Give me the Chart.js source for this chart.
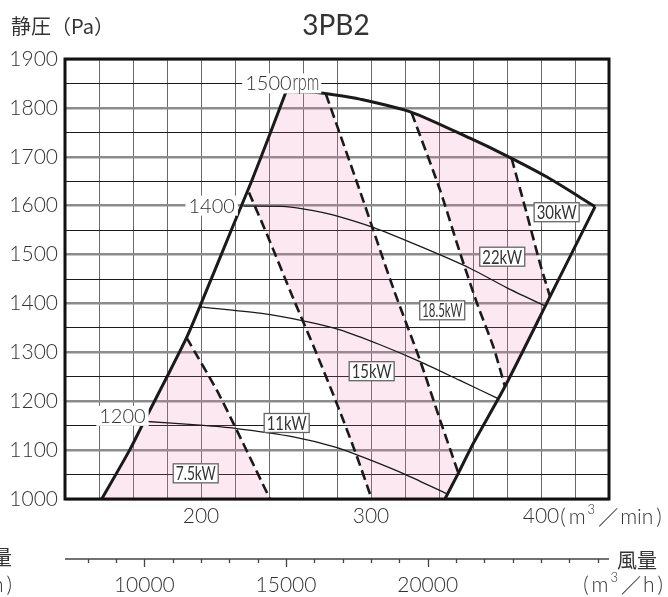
<!DOCTYPE html>
<html>
<head>
<meta charset="utf-8">
<script src="https://cdn.jsdelivr.net/npm/chart.js@4/dist/chart.umd.min.js"></script>
<style>
  html, body { margin: 0; padding: 0; background: #fff; }
</style>
</head>
<body>
<canvas id="chart" width="668" height="597"></canvas>
<script>
// 風量 (m3/min) vs 静圧 (Pa)
const chartTitle = "3PB2";
const yTitle = "静圧（Pa）";
const xLabelTicks = [200, 300, 400];
const yLabelTicks = [1000, 1100, 1200, 1300, 1400, 1500, 1600, 1700, 1800, 1900];

// second axis in m3/h
const m3hMajor = [10000, 15000, 20000];
const m3hMinor = [8000, 9000, 11000, 12000, 13000, 14000, 16000, 17000, 18000, 19000, 21000, 22000, 23000, 24000, 25000, 26000];

// envelope of the operating range
const leftBound = [[141.6, 1000], [158, 1100], [166, 1155], [180, 1250], [191.5, 1330], [199.5, 1395], [219, 1560], [229.5, 1648], [240.5, 1746], [250, 1833]];
const topCurve = [[250, 1833], [266, 1832], [278, 1827], [293.5, 1818], [323.9, 1791], [358.2, 1738], [379.8, 1702], [403.3, 1659], [431.8, 1598]];
const rightBound = [[431.8, 1598], [405.3, 1414], [378.8, 1230], [360.2, 1114], [351.4, 1053], [343.5, 1000]];

// rpm curves
const rpm1400 = [[224.9, 1599], [250, 1598], [266, 1590], [277.6, 1581], [301.6, 1555], [330, 1515], [358.2, 1472], [380, 1432], [402.4, 1395]];
const rpm1300 = [[199.4, 1393], [234.7, 1380], [262.2, 1363], [281.8, 1346], [305, 1316], [328.8, 1281], [352, 1243], [374.5, 1206]];
const rpm1200 = [[166.1, 1159], [199.4, 1151], [220, 1144.5], [254.3, 1127], [279, 1106], [299.4, 1080], [321, 1049], [344.5, 1011]];

// motor power limits (dashed)
const kw75Line = [[191.5, 1330], [209.2, 1223], [221, 1141], [240.6, 1000]];
const kw11Line = [[228.2, 1627], [238.6, 1543], [254.3, 1410], [266.5, 1310], [279.8, 1196], [291.6, 1088], [300.4, 1000]];
const kw15Line = [[273.5, 1828], [293.5, 1630], [313.1, 1431], [328.8, 1284], [340.6, 1162], [351.4, 1053]];
const kw185Line = [[323.9, 1790], [340.6, 1632], [352.4, 1503], [363.1, 1393], [372, 1311], [378.8, 1230]];
const kw22Line = [[382.7, 1697], [391.6, 1584], [399.4, 1482], [405.3, 1414]];

const kwLabels = ["7.5kW", "11kW", "15kW", "18.5kW", "22kW", "30kW"];
const kwLabelX = [196.9, 250.4, 300.4, 341.9, 377.2, 409.2];
const kwLabelY = [1052.5, 1155.5, 1261.4, 1386, 1495.6, 1586.6];

const rpmLabels = ["1500", "1400", "1200"];
const rpmLabelX = [247.5, 206.3, 153.8];
const rpmLabelY = [1850, 1600, 1170];

const FONT = 'Lato, "Noto Sans CJK JP", sans-serif';
const CJK = '"Noto Sans CJK JP", sans-serif';
const TEXT = "#333";
const PINK = "rgba(238, 120, 165, 0.17)";

const pts = (arr) => arr.map((p) => ({ x: p[0], y: p[1] }));

// pink areas built from the curves above
const regionA = [...leftBound.filter((p) => p[1] < kw75Line[0][1]), ...kw75Line];
const regionC = [
  ...kw11Line.slice().reverse(),
  ...leftBound.filter((p) => p[1] > kw11Line[0][1]),
  ...topCurve.filter((p) => p[0] > leftBound[leftBound.length - 1][0] && p[0] < kw15Line[0][0]),
  ...kw15Line,
  ...rightBound.filter((p) => p[1] < kw15Line[kw15Line.length - 1][1]),
];
const regionE = [
  ...topCurve.filter((p) => p[0] > kw185Line[0][0] && p[0] < kw22Line[0][0]),
  ...kw22Line,
  ...rightBound.filter((p) => p[1] > kw185Line[kw185Line.length - 1][1] && p[1] < kw22Line[kw22Line.length - 1][1]),
  ...kw185Line.slice().reverse(),
];

const fillSet = (arr) => ({
  data: pts(arr),
  showLine: true,
  fill: "shape",
  backgroundColor: PINK,
  borderColor: "rgba(0,0,0,0)",
  borderWidth: 0,
  pointRadius: 0,
  tension: 0,
  order: 10,
});
const lineSet = (arr, width, dash) => ({
  data: pts(arr),
  showLine: true,
  fill: false,
  borderColor: "#1a1a1a",
  borderWidth: width,
  borderDash: dash || [],
  pointRadius: 0,
  tension: 0.25,
  order: 1,
});

// "(m³/xx)" with a raised 3
const drawUnit = (ctx, x, y, word, align) => {
  const big = "300 21px " + FONT;
  const small = "300 13px " + FONT;
  const parts = [["(", big, 0, 3], ["m", big, 0, 2], ["3", small, -7, 3], ["／", "20px " + CJK, 0, 2], [word, big, 0, 3], [")", big, 0, 0]];
  let total = 0;
  parts.forEach((p) => {
    ctx.font = p[1];
    p.push(ctx.measureText(p[0]).width);
    total += p[4] + p[3];
  });
  let cx = align === "right" ? x - total : x;
  ctx.textAlign = "left";
  ctx.textBaseline = "middle";
  ctx.fillStyle = TEXT;
  parts.forEach((p) => {
    ctx.font = p[1];
    ctx.fillText(p[0], cx, y + p[2]);
    cx += p[4] + p[3];
  });
};

const extras = {
  id: "extras",
  afterDatasetsDraw(chart) {
    const { ctx, chartArea } = chart;
    const x = chart.scales.x;
    const y = chart.scales.y;
    ctx.save();

    // rpm labels
    rpmLabels.forEach((t, i) => {
      const cx = x.getPixelForValue(rpmLabelX[i]);
      const cy = y.getPixelForValue(rpmLabelY[i]);
      ctx.font = "300 20px " + FONT;
      const w1 = ctx.measureText(t).width;
      let w2 = 0;
      if (i === 0) {
        ctx.font = "300 23px " + FONT;
        w2 = ctx.measureText("rpm").width * 0.68;
      }
      const w = w1 + w2;
      ctx.fillStyle = "#fff";
      ctx.fillRect(cx - w / 2 - 3, cy - 10, w + 6, 20);
      ctx.fillStyle = TEXT;
      ctx.textBaseline = "alphabetic";
      ctx.textAlign = "left";
      ctx.font = "300 20px " + FONT;
      ctx.fillText(t, cx - w / 2, cy + 7);
      if (i === 0) {
        ctx.save();
        ctx.translate(cx - w / 2 + w1 + 1, cy + 7);
        ctx.scale(0.68, 1);
        ctx.font = "300 23px " + FONT;
        ctx.fillText("rpm", 0, 0);
        ctx.restore();
      }
    });

    // kW boxes
    kwLabels.forEach((t, i) => {
      const cx = x.getPixelForValue(kwLabelX[i]);
      const cy = y.getPixelForValue(kwLabelY[i]);
      ctx.fillStyle = "#fff";
      ctx.fillRect(cx - 22.5, cy - 9.5, 45, 19);
      ctx.strokeStyle = "#666";
      ctx.lineWidth = 1.3;
      ctx.strokeRect(cx - 22.5, cy - 9.5, 45, 19);
      ctx.font = "19px " + FONT;
      const w = ctx.measureText(t).width;
      const sx = Math.min(0.8, 40 / w);
      ctx.save();
      ctx.translate(cx, cy + 1);
      ctx.scale(sx, 1);
      ctx.fillStyle = TEXT;
      ctx.textAlign = "center";
      ctx.textBaseline = "middle";
      ctx.fillText(t, 0, 0);
      ctx.restore();
    });

    // frame
    ctx.strokeStyle = "#111";
    ctx.lineWidth = 3;
    ctx.strokeRect(chartArea.left, chartArea.top, chartArea.right - chartArea.left, chartArea.bottom - chartArea.top);
    ctx.restore();
  },
  afterDraw(chart) {
    const { ctx, chartArea } = chart;
    const x = chart.scales.x;
    ctx.save();

    // titles
    ctx.fillStyle = TEXT;
    ctx.textBaseline = "middle";
    ctx.textAlign = "center";
    ctx.font = "28px " + FONT;
    ctx.fillText(chartTitle, 336, 26);
    ctx.textAlign = "left";
    ctx.font = "20px " + CJK;
    ctx.fillText(yTitle, 11, 26);

    // unit after 400
    ctx.font = "300 21px " + FONT;
    const last = xLabelTicks[xLabelTicks.length - 1];
    const lw = ctx.measureText(String(last)).width;
    drawUnit(ctx, x.getPixelForValue(last) + lw / 2 + 1, 517, "min", "left");

    // m3/h axis
    const ay = chartArea.bottom + 60;
    ctx.strokeStyle = "#444";
    ctx.lineWidth = 1.3;
    ctx.beginPath();
    ctx.moveTo(chartArea.left, ay);
    ctx.lineTo(chartArea.right, ay);
    m3hMinor.forEach((v) => {
      const px = Math.round(x.getPixelForValue(v / 60)) + 0.5;
      ctx.moveTo(px, ay);
      ctx.lineTo(px, ay + 4);
    });
    m3hMajor.forEach((v) => {
      const px = Math.round(x.getPixelForValue(v / 60)) + 0.5;
      ctx.moveTo(px, ay);
      ctx.lineTo(px, ay + 8);
    });
    ctx.stroke();
    ctx.fillStyle = TEXT;
    ctx.textAlign = "center";
    ctx.textBaseline = "middle";
    ctx.font = "300 21px " + FONT;
    m3hMajor.forEach((v) => {
      ctx.fillText(String(v), x.getPixelForValue(v / 60), ay + 26);
    });

    ctx.font = "20px " + CJK;
    ctx.textAlign = "left";
    ctx.fillText("風量", 617, ay + 1);
    drawUnit(ctx, 663, ay + 26, "h", "right");
    ctx.font = "20px " + CJK;
    ctx.textAlign = "right";
    ctx.fillText("風量", 12, ay - 2);
    drawUnit(ctx, 12, ay + 26, "h", "right");
    ctx.restore();
  },
};

new Chart(document.getElementById("chart"), {
  type: "scatter",
  data: {
    datasets: [
      fillSet(regionA),
      fillSet(regionC),
      fillSet(regionE),
      lineSet(rpm1400, 1.3),
      lineSet(rpm1300, 1.3),
      lineSet(rpm1200, 1.3),
      lineSet(kw75Line, 2.6, [10, 5]),
      lineSet(kw11Line, 2.6, [10, 5]),
      lineSet(kw15Line, 2.6, [10, 5]),
      lineSet(kw185Line, 2.6, [10, 5]),
      lineSet(kw22Line, 2.6, [10, 5]),
      lineSet(leftBound, 3),
      lineSet(topCurve, 3),
      lineSet(rightBound, 3),
    ],
  },
  options: {
    responsive: false,
    animation: false,
    devicePixelRatio: 1,
    layout: { padding: { top: 59, right: 59, left: 0, bottom: 0 } },
    plugins: { legend: { display: false }, tooltip: { enabled: false } },
    scales: {
      x: {
        type: "linear",
        min: 120,
        max: 440,
        afterFit: (s) => { s.height = 98; },
        border: { display: false },
        grid: { color: "#6a6a6a", lineWidth: 1, drawTicks: false },
        ticks: {
          stepSize: 20,
          autoSkip: false,
          maxRotation: 0,
          padding: 5,
          color: TEXT,
          font: { family: FONT, size: 21, weight: 300 },
          callback: (v) => (xLabelTicks.includes(v) ? String(v) : ""),
        },
      },
      y: {
        min: 1000,
        max: 1900,
        afterFit: (s) => { s.width = 65; },
        border: { display: false },
        grid: {
          drawTicks: false,
          color: (c) => (c.tick && c.tick.value % 100 === 0 ? "#8c8c8c" : "#1a1a1a"),
          lineWidth: (c) => (c.tick && c.tick.value % 100 === 0 ? 2.4 : 1),
        },
        ticks: {
          stepSize: 50,
          autoSkip: false,
          padding: 7,
          color: TEXT,
          font: { family: FONT, size: 21, weight: 300 },
          callback: (v) => (yLabelTicks.includes(v) ? String(v) : ""),
        },
      },
    },
  },
  plugins: [extras],
});
</script>
</body>
</html>
